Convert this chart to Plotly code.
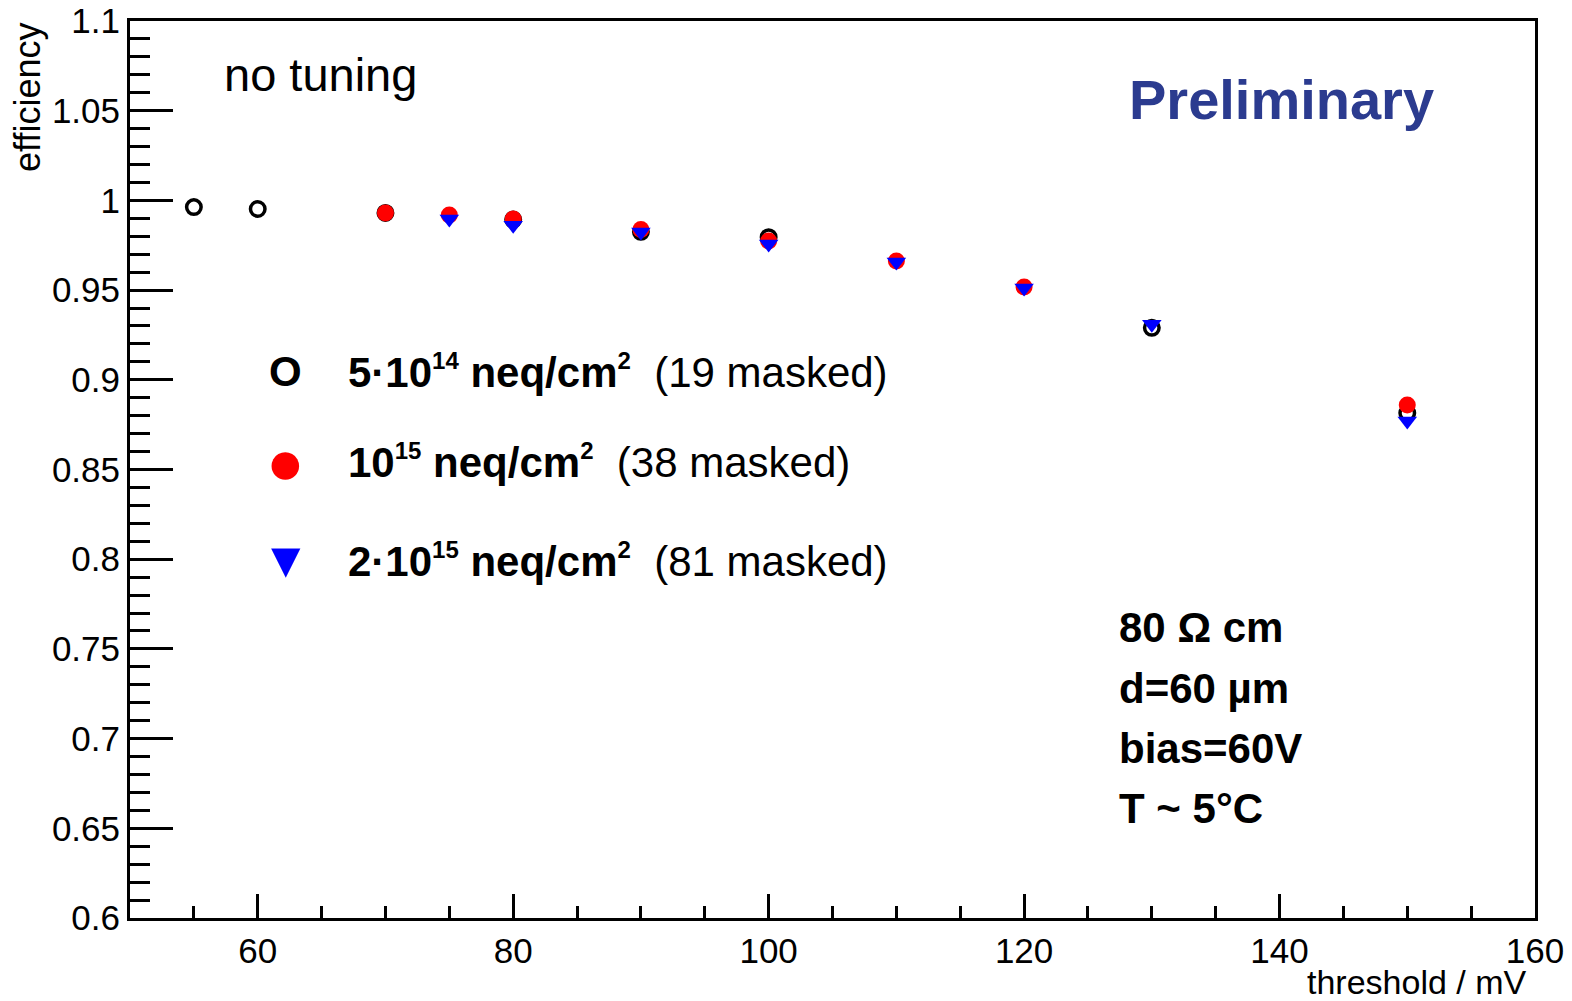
import plotly.graph_objects as go

# ---- data ----
thr_5e14 = [55, 60, 70, 80, 90, 100, 130, 150]
eff_5e14 = [0.9963, 0.9952, 0.9930, 0.9893, 0.9825, 0.9795, 0.9290, 0.8815]

thr_1e15 = [70, 75, 80, 90, 100, 110, 120, 150]
eff_1e15 = [0.9930, 0.9918, 0.9896, 0.9838, 0.9774, 0.9662, 0.9517, 0.8860]

thr_2e15 = [75, 80, 90, 100, 110, 120, 130, 150]
eff_2e15 = [0.9896, 0.9862, 0.9824, 0.9757, 0.9657, 0.9512, 0.9310, 0.8770]

y_tickvals = [0.6, 0.65, 0.7, 0.75, 0.8, 0.85, 0.9, 0.95, 1.0, 1.05, 1.1]
y_ticktext = ["0.6", "0.65", "0.7", "0.75", "0.8", "0.85", "0.9", "0.95", "1", "1.05", "1.1"]
x_tickvals = [60, 80, 100, 120, 140, 160]
x_ticktext = ["60", "80", "100", "120", "140", "160"]

SUP = '<sup><span style="font-size:24px">{}</span></sup>'
legend_labels = [
    "<b>5·10" + SUP.format("14") + " neq/cm" + SUP.format("2") + "</b>\u00a0\u00a0(19 masked)",
    "<b>10" + SUP.format("15") + " neq/cm" + SUP.format("2") + "</b>\u00a0\u00a0(38 masked)",
    "<b>2·10" + SUP.format("15") + " neq/cm" + SUP.format("2") + "</b>\u00a0\u00a0(81 masked)",
]
info_lines = ["80 Ω cm", "d=60 µm", "bias=60V", "T ~ 5°C"]

FONT = "Liberation Sans, Arial, Helvetica, sans-serif"

fig = go.Figure()
fig.add_trace(go.Scatter(
    x=thr_5e14, y=eff_5e14, mode="markers", showlegend=False,
    marker=dict(symbol="circle-open", size=14.5, color="black", line=dict(width=3.5, color="black")),
))
fig.add_trace(go.Scatter(
    x=thr_1e15, y=eff_1e15, mode="markers", showlegend=False,
    marker=dict(symbol="circle", size=17, color="#ff0000", line=dict(width=0)),
))
fig.add_trace(go.Scatter(
    x=thr_2e15, y=eff_2e15, mode="markers", showlegend=False,
    marker=dict(symbol="triangle-down", size=17, color="#0000ff", line=dict(width=0)),
))

fig.update_layout(
    width=1572, height=1001,
    margin=dict(l=130, r=37, t=21, b=83, autoexpand=False),
    paper_bgcolor="white", plot_bgcolor="white",
    font=dict(family=FONT, color="black"),
    showlegend=False,
)
fig.update_xaxes(
    range=[50, 160], showgrid=False, zeroline=False, automargin=False,
    showline=True, linecolor="black", linewidth=3, mirror=True,
    ticks="inside", ticklen=24, tickwidth=3, tickcolor="black",
    tickvals=x_tickvals, ticktext=x_ticktext,
    tickfont=dict(size=35, family=FONT, color="black"),
    minor=dict(ticks="inside", dtick=5, tick0=0, ticklen=12, tickwidth=3, tickcolor="black", showgrid=False),
)
fig.update_yaxes(
    range=[0.6, 1.1], showgrid=False, zeroline=False, automargin=False,
    showline=True, linecolor="black", linewidth=3, mirror=True,
    ticks="inside", ticklen=43, tickwidth=3, tickcolor="black",
    tickvals=y_tickvals, ticktext=y_ticktext,
    tickfont=dict(size=35, family=FONT, color="black"),
    minor=dict(ticks="inside", dtick=0.01, tick0=0, ticklen=20, tickwidth=3, tickcolor="black", showgrid=False),
)

ann = []
# axis titles
ann.append(dict(text="efficiency", x=-0.073, y=1.0, xref="paper", yref="paper",
                xanchor="center", yanchor="top", textangle=-90, showarrow=False,
                font=dict(size=36, family=FONT, color="black")))
ann.append(dict(text="threshold / mV", x=0.996, y=-0.0715, xref="paper", yref="paper",
                xanchor="right", yanchor="middle", showarrow=False,
                font=dict(size=34, family=FONT, color="black")))
# labels in the frame
ann.append(dict(text="no tuning", x=0.0655, y=0.94, xref="paper", yref="paper",
                xanchor="left", yanchor="middle", showarrow=False,
                font=dict(size=47, family=FONT, color="black")))
ann.append(dict(text="<b>Preliminary</b>", x=0.7096, y=0.912, xref="paper", yref="paper",
                xanchor="left", yanchor="middle", showarrow=False,
                font=dict(size=56, family=FONT, color="#2b3b8f")))
info_y = [0.3244, 0.2564, 0.1895, 0.1226]
for t, yy in zip(info_lines, info_y):
    ann.append(dict(text="<b>" + t + "</b>", x=0.7025, y=yy, xref="paper", yref="paper",
                    xanchor="left", yanchor="middle", showarrow=False,
                    font=dict(size=42, family=FONT, color="black")))

# legend made from annotations
leg_y = [0.6087, 0.5084, 0.3991]
leg_sym = ["<b>O</b>", "●", "▼"]
leg_col = ["black", "#ff0000", "#0000ff"]
leg_size = [42, 64, 50]
for lab, yy, s, c, fs in zip(legend_labels, leg_y, leg_sym, leg_col, leg_size):
    ann.append(dict(text=s, x=0.111, y=yy, xref="paper", yref="paper",
                    xanchor="center", yanchor="middle", showarrow=False,
                    font=dict(size=fs, family=FONT, color=c)))
    ann.append(dict(text=lab, x=0.1537, y=yy, xref="paper", yref="paper",
                    xanchor="left", yanchor="middle", showarrow=False,
                    font=dict(size=42, family=FONT, color="black")))
fig.update_layout(annotations=ann)

fig.write_html("out.html")
